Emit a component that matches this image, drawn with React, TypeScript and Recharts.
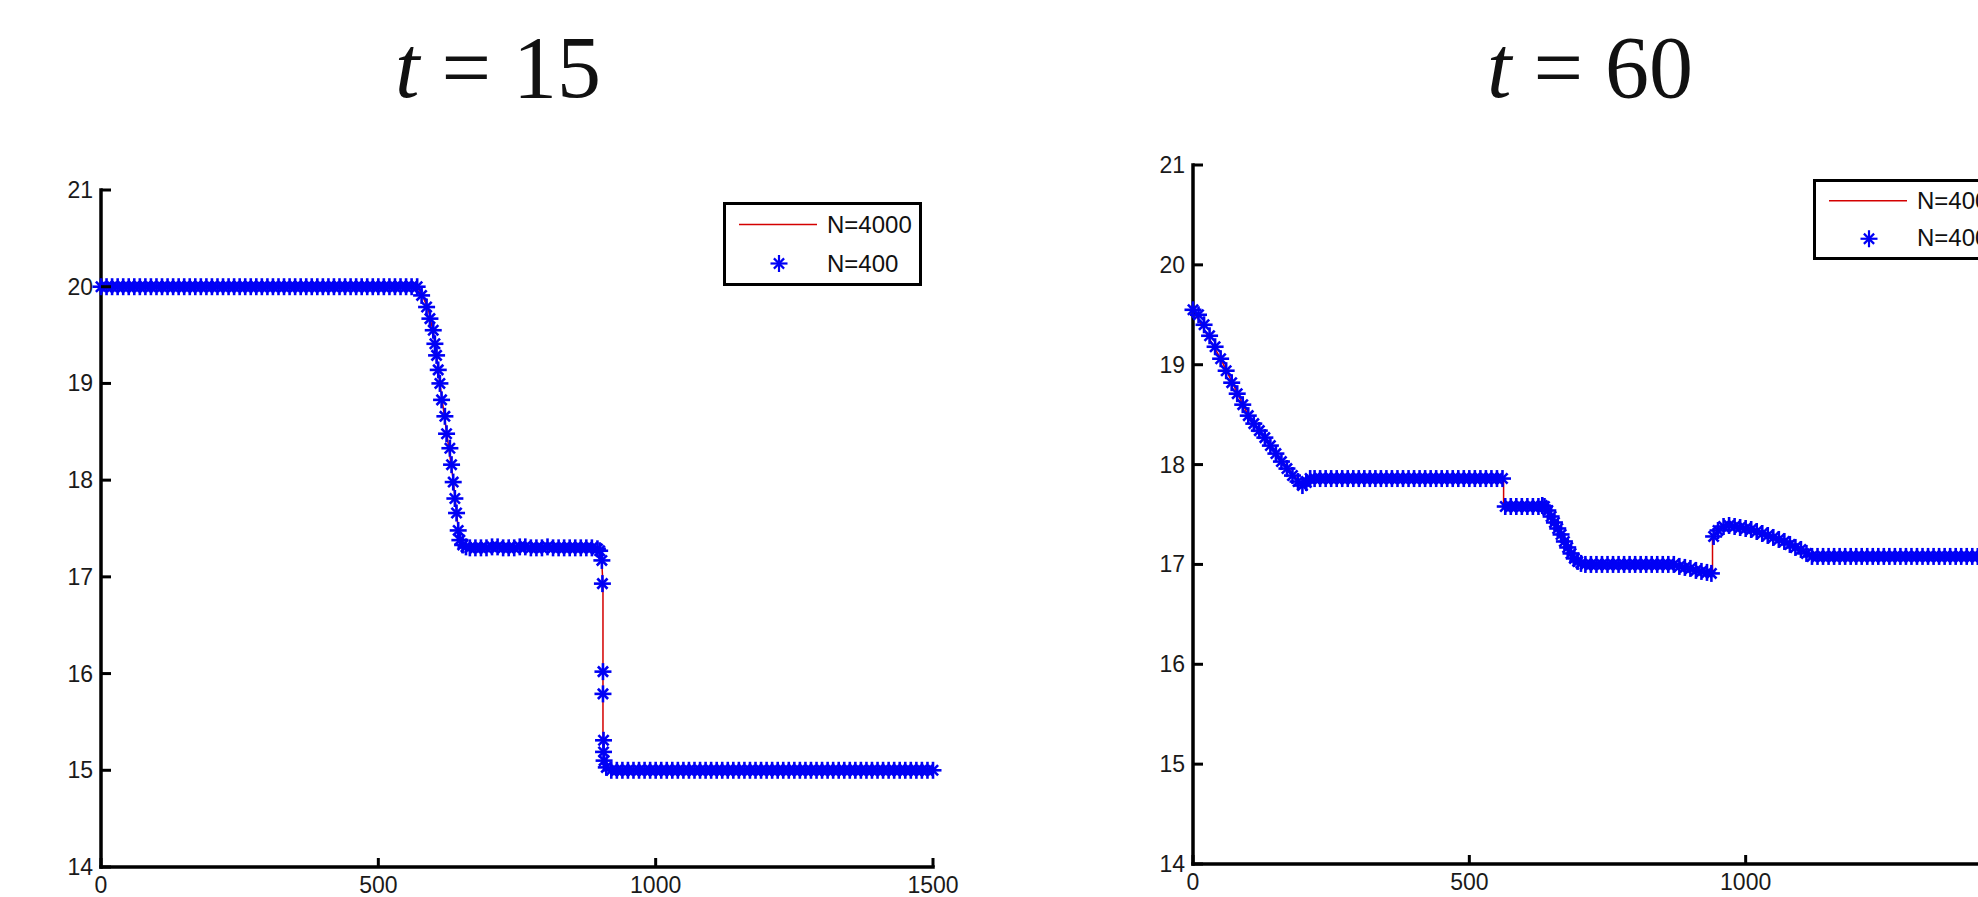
import React from "react";
import { ComposedChart, Line, Scatter, XAxis, YAxis, Legend } from "recharts";

const yTicks = [14, 15, 16, 17, 18, 19, 20, 21];
const xTicks = [0, 500, 1000, 1500];
const seriesNames = ["N=4000", "N=400"];

// t = 15 : N=400 markers [x, y]
const stars15: number[][] = [
  [0, 20], [10, 20], [20, 20], [30, 20], [40, 20], [50, 20], [60, 20], [70, 20], [80, 20], [90, 20],
  [100, 20], [110, 20], [120, 20], [130, 20], [140, 20], [150, 20], [160, 20], [170, 20], [180, 20], [190, 20],
  [200, 20], [210, 20], [220, 20], [230, 20], [240, 20], [250, 20], [260, 20], [270, 20], [280, 20], [290, 20],
  [300, 20], [310, 20], [320, 20], [330, 20], [340, 20], [350, 20], [360, 20], [370, 20], [380, 20], [390, 20],
  [400, 20], [410, 20], [420, 20], [430, 20], [440, 20], [450, 20], [460, 20], [470, 20], [480, 20], [490, 20],
  [500, 20], [510, 20], [520, 20], [530, 20], [540, 20], [550, 20], [560, 20], [570, 20],
  [578, 19.91], [587, 19.79], [593, 19.67], [599, 19.55], [602, 19.41], [605, 19.29], [608, 19.14], [611, 19.0],
  [614, 18.83], [620, 18.66], [623, 18.48], [629, 18.33], [632, 18.16], [635, 17.98], [638, 17.81], [641, 17.66],
  [644, 17.48], [647, 17.38], [652, 17.33], [658, 17.31],
  [665, 17.3], [675, 17.3], [685, 17.3], [695, 17.3], [705, 17.31], [715, 17.31], [725, 17.3], [735, 17.3],
  [745, 17.3], [755, 17.31], [765, 17.31], [775, 17.3], [785, 17.3], [795, 17.3], [805, 17.31], [815, 17.3],
  [825, 17.3], [835, 17.3], [845, 17.3], [855, 17.3], [865, 17.3], [875, 17.3], [885, 17.3], [895, 17.29],
  [899, 17.27], [903, 17.17], [904, 16.93], [905, 16.02], [905, 15.79], [906, 15.31], [906, 15.19], [907, 15.1], [911, 15.03],
  [920, 15], [930, 15], [940, 15], [950, 15], [960, 15], [970, 15], [980, 15], [990, 15],
  [1000, 15], [1010, 15], [1020, 15], [1030, 15], [1040, 15], [1050, 15], [1060, 15], [1070, 15], [1080, 15], [1090, 15],
  [1100, 15], [1110, 15], [1120, 15], [1130, 15], [1140, 15], [1150, 15], [1160, 15], [1170, 15], [1180, 15], [1190, 15],
  [1200, 15], [1210, 15], [1220, 15], [1230, 15], [1240, 15], [1250, 15], [1260, 15], [1270, 15], [1280, 15], [1290, 15],
  [1300, 15], [1310, 15], [1320, 15], [1330, 15], [1340, 15], [1350, 15], [1360, 15], [1370, 15], [1380, 15], [1390, 15],
  [1400, 15], [1410, 15], [1420, 15], [1430, 15], [1440, 15], [1450, 15], [1460, 15], [1470, 15], [1480, 15], [1490, 15],
  [1500, 15],
];

// t = 15 : N=4000 line vertices
const fine15: number[][] = [
  [0, 20], [570, 20], [580, 19.9], [590, 19.77], [600, 19.5], [611, 19.0], [623, 18.5], [635, 18.0],
  [644, 17.5], [650, 17.36], [660, 17.3], [898, 17.28], [903, 17.15], [905, 16.9], [905, 15.35],
  [908, 15.08], [915, 15.0], [1500, 15.0],
];

// t = 60 : N=400 markers
const stars60: number[][] = [
  [0, 19.55], [10, 19.5], [20, 19.4], [30, 19.29], [40, 19.18], [50, 19.06], [60, 18.94], [70, 18.82], [80, 18.71], [90, 18.6],
  [100, 18.49], [110, 18.41], [120, 18.34], [130, 18.27], [140, 18.19], [150, 18.11], [160, 18.03], [170, 17.96], [180, 17.89], [190, 17.83],
  [198, 17.79], [205, 17.82], [212, 17.86],
  [220, 17.86], [230, 17.86], [240, 17.86], [250, 17.86], [260, 17.86], [270, 17.86], [280, 17.86], [290, 17.86],
  [300, 17.86], [310, 17.86], [320, 17.86], [330, 17.86], [340, 17.86], [350, 17.86], [360, 17.86], [370, 17.86], [380, 17.86], [390, 17.86],
  [400, 17.86], [410, 17.86], [420, 17.86], [430, 17.86], [440, 17.86], [450, 17.86], [460, 17.86], [470, 17.86], [480, 17.86], [490, 17.86],
  [500, 17.86], [510, 17.86], [520, 17.86], [530, 17.86], [540, 17.86], [550, 17.86], [560, 17.86],
  [565, 17.58], [575, 17.58], [585, 17.58], [595, 17.58], [605, 17.58], [615, 17.58], [625, 17.58], [632, 17.59],
  [636, 17.58], [642, 17.54], [648, 17.48], [654, 17.42], [660, 17.36], [666, 17.3], [672, 17.23], [678, 17.17],
  [684, 17.11], [690, 17.06], [696, 17.03], [702, 17.01],
  [710, 17], [720, 17], [730, 17], [740, 17], [750, 17], [760, 17], [770, 17], [780, 17], [790, 17],
  [800, 17], [810, 17], [820, 17], [830, 17], [840, 17], [850, 17], [860, 17], [870, 17],
  [880, 16.98], [890, 16.97], [900, 16.96], [910, 16.94], [920, 16.93], [930, 16.92], [938, 16.91],
  [942, 17.28], [950, 17.34], [960, 17.38], [970, 17.39], [980, 17.38], [990, 17.37], [1000, 17.36], [1010, 17.35],
  [1020, 17.33], [1030, 17.31], [1040, 17.29], [1050, 17.27], [1060, 17.25], [1070, 17.23], [1080, 17.2], [1090, 17.17],
  [1100, 17.15], [1110, 17.11], [1120, 17.08],
  [1130, 17.08], [1140, 17.08], [1150, 17.08], [1160, 17.08], [1170, 17.08], [1180, 17.08], [1190, 17.08],
  [1200, 17.08], [1210, 17.08], [1220, 17.08], [1230, 17.08], [1240, 17.08], [1250, 17.08], [1260, 17.08], [1270, 17.08], [1280, 17.08], [1290, 17.08],
  [1300, 17.08], [1310, 17.08], [1320, 17.08], [1330, 17.08], [1340, 17.08], [1350, 17.08], [1360, 17.08], [1370, 17.08], [1380, 17.08], [1390, 17.08],
  [1400, 17.08], [1410, 17.08], [1420, 17.08], [1430, 17.08], [1440, 17.08], [1450, 17.08], [1460, 17.08], [1470, 17.08], [1480, 17.08], [1490, 17.08],
  [1500, 17.08],
];

// t = 60 : N=4000 line vertices
const fine60: number[][] = [
  [0, 19.55], [50, 19.06], [100, 18.49], [150, 18.11], [198, 17.79], [212, 17.86], [562, 17.86], [562, 17.58],
  [632, 17.59], [660, 17.36], [690, 17.06], [710, 17.0], [870, 17.0], [938, 16.91], [940, 16.91], [940, 17.27],
  [960, 17.38], [1000, 17.36], [1060, 17.25], [1100, 17.15], [1125, 17.08], [1500, 17.08],
];

const toRows = (pts: number[][]) => pts.map(([x, y]) => ({ x, y }));

const tickFont = '"Liberation Sans", Arial, Helvetica, sans-serif';
const BLUE = "#0000f5";
const RED = "#d40000";

function Star({ cx, cy, r = 8.5, w = 2.6 }: { cx: number; cy: number; r?: number; w?: number }) {
  const d = r * 0.6;
  return (
    <g stroke={BLUE} strokeWidth={w}>
      <line x1={cx - r} y1={cy} x2={cx + r} y2={cy} />
      <line x1={cx} y1={cy - r} x2={cx} y2={cy + r} />
      <line x1={cx - d} y1={cy - d} x2={cx + d} y2={cy + d} />
      <line x1={cx - d} y1={cy + d} x2={cx + d} y2={cy - d} />
    </g>
  );
}

const YTick = (props: any) => {
  const { x, y, payload } = props;
  return (
    <g>
      <line x1={x} x2={x + 10} y1={y} y2={y} stroke="#000" strokeWidth={3} />
      <text x={x - 8} y={y} textAnchor="end" dominantBaseline="central" fontSize={23} fill="#1a1a1a" fontFamily={tickFont}>
        {payload.value}
      </text>
    </g>
  );
};

const XTick = (props: any) => {
  const { x, y, payload } = props;
  return (
    <g>
      <line x1={x} x2={x} y1={y} y2={y - 9} stroke="#000" strokeWidth={3} />
      <text x={x} y={y + 26} textAnchor="middle" fontSize={23} fill="#1a1a1a" fontFamily={tickFont}>
        {payload.value}
      </text>
    </g>
  );
};

function LegendBox({ payload, rowH, boxH }: any) {
  const items = [...(payload || [])].sort(
    (a: any, b: any) => seriesNames.indexOf(a.value) - seriesNames.indexOf(b.value)
  );
  return (
    <div
      style={{
        width: 199,
        height: boxH,
        boxSizing: "border-box",
        border: "3px solid #000",
        background: "#fff",
      }}
    >
      {items.map((e: any, i: number) => (
        <div key={i} style={{ display: "flex", alignItems: "center", height: rowH }}>
          <svg width={98} height={rowH} style={{ display: "block" }}>
            {e.value === seriesNames[0] ? (
              <line x1={13} x2={91} y1={rowH / 2} y2={rowH / 2} stroke={RED} strokeWidth={1.5} />
            ) : (
              <Star cx={53} cy={rowH / 2} w={2.2} />
            )}
          </svg>
          <span style={{ marginLeft: 3, fontSize: 24, fontFamily: tickFont, color: "#111", lineHeight: 1 }}>{e.value}</span>
        </div>
      ))}
    </div>
  );
}

type PanelProps = {
  left: number;
  top: number;
  right: number;
  yw: number;
  xh: number;
  stars: number[][];
  fine: number[][];
  legend: { left: number; top: number; rowH: number; boxH: number };
};

function Panel({ left, top, right, yw, xh, stars, fine, legend }: PanelProps) {
  return (
    <div style={{ position: "absolute", left, top: 0 }}>
      <ComposedChart width={1000} height={897} margin={{ top, right, bottom: 0, left: 0 }}>
        <XAxis
          type="number"
          dataKey="x"
          domain={[0, 1500]}
          ticks={xTicks}
          interval={0}
          height={xh}
          tickSize={0}
          tickMargin={0}
          tick={<XTick />}
          axisLine={{ stroke: "#000", strokeWidth: 3.5, strokeLinecap: "square" }}
        />
        <YAxis
          type="number"
          dataKey="y"
          domain={[14, 21]}
          ticks={yTicks}
          interval={0}
          width={yw}
          tickSize={0}
          tickMargin={0}
          tick={<YTick />}
          axisLine={{ stroke: "#000", strokeWidth: 3.5, strokeLinecap: "square" }}
        />
        <Legend
          layout="horizontal"
          align="center"
          verticalAlign="middle"
          wrapperStyle={{ left: legend.left, top: legend.top, width: 199, height: legend.boxH }}
          content={(p: any) => <LegendBox {...p} rowH={legend.rowH} boxH={legend.boxH} />}
        />
        <Line
          name={seriesNames[0]}
          data={toRows(fine)}
          dataKey="y"
          type="linear"
          stroke={RED}
          strokeWidth={1.5}
          dot={false}
          legendType="line"
          isAnimationActive={false}
        />
        <Scatter
          name={seriesNames[1]}
          data={toRows(stars)}
          fill={BLUE}
          legendType="star"
          shape={(p: any) => <Star cx={p.cx} cy={p.cy} />}
          isAnimationActive={false}
        />
      </ComposedChart>
    </div>
  );
}

function Title({ center, value }: { center: number; value: string }) {
  return (
    <div
      style={{
        position: "absolute",
        left: center - 300,
        width: 600,
        top: 24,
        textAlign: "center",
        fontFamily: '"Liberation Serif", "Times New Roman", serif',
        fontSize: 88,
        lineHeight: "88px",
        color: "#111",
        whiteSpace: "pre",
      }}
    >
      <span style={{ fontStyle: "italic" }}>t</span>
      {" = " + value}
    </div>
  );
}

export default function App() {
  return (
    <div
      style={{
        position: "fixed",
        left: 0,
        top: 0,
        width: 1978,
        height: 897,
        overflow: "hidden",
        background: "#fff",
      }}
    >
      <Title center={498} value="15" />
      <Title center={1590} value="60" />
      <Panel
        left={0}
        top={190}
        right={67}
        yw={101}
        xh={30}
        stars={stars15}
        fine={fine15}
        legend={{ left: 723, top: 202, rowH: 39, boxH: 84 }}
      />
      <Panel
        left={1100}
        top={165}
        right={78}
        yw={93}
        xh={33}
        stars={stars60}
        fine={fine60}
        legend={{ left: 713, top: 179, rowH: 37.5, boxH: 81 }}
      />
    </div>
  );
}
